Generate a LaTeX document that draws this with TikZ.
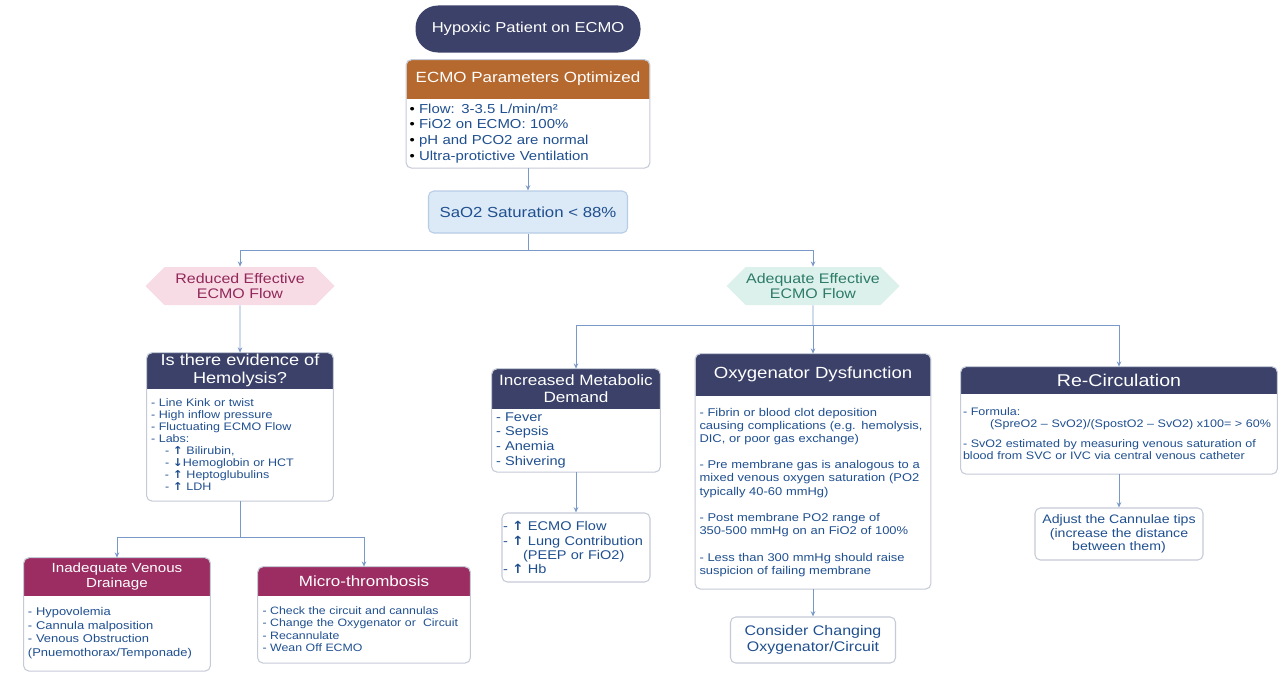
\documentclass[tikz,border=0pt]{standalone}
\usepackage{fontspec}
\setmainfont{Liberation Sans}[FakeStretch=1.15]
\newfontfamily\symfont{DejaVu Sans}[FakeStretch=1.1]
\usepackage{tikz}
\usetikzlibrary{arrows,arrows.meta,shapes,positioning}
\usepackage{xcolor}
\definecolor{dfnavy}{RGB}{59,65,104}
\definecolor{dforange}{RGB}{181,105,47}
\definecolor{dfplum}{RGB}{155,45,98}
\definecolor{dftext}{RGB}{31,79,143}
\definecolor{dfline}{RGB}{122,152,200}
\definecolor{dfframe}{RGB}{196,202,214}
\definecolor{dfsky}{RGB}{220,233,246}
\definecolor{dfskyline}{RGB}{183,205,230}
\definecolor{dfpink}{RGB}{248,220,229}
\definecolor{dfpinktext}{RGB}{146,40,90}
\definecolor{dfmint}{RGB}{221,241,236}
\definecolor{dfminttext}{RGB}{44,123,103}
\tikzstyle{line} = [draw=dfline, line width=0.5pt]
\tikzstyle{arrow} = [line,-{Stealth[length=3pt,width=2.6pt]}]
\tikzstyle{frame} = [draw=dfframe, line width=0.6pt, rounded corners=3pt]
\tikzset{
  head/.style={fill=white, inner sep=0pt, text=white, align=center,
    path picture={\fill[#1, rounded corners=3pt] (path picture bounding box.north west) rectangle ([yshift=-8pt]path picture bounding box.south east);}},
  body/.style={anchor=north, align=left, text=dftext, inner xsep=0.8mm, inner ysep=0pt},
  hexa/.style={signal, signal to=west and east, signal pointer angle=90, inner sep=0pt, align=center, fill=#1},
  plain/.style={draw=dfframe, line width=0.6pt, rounded corners=3pt, align=center, text=dftext, inner sep=0pt}
}
\newcommand{\up}{{\symfont\bfseries ↑}}
\newcommand{\down}{{\symfont\bfseries ↓}}

\begin{document}
\begin{tikzpicture}[x=0.2mm, y=-0.2mm]
\useasboundingbox (0,0) rectangle (1282,672);

% Start and parameters
\node[fill=dfnavy, rounded corners=4.5mm, minimum width=45mm, minimum height=9.4mm, text=white, font=\fontsize{8.2}{9.8}\selectfont] (start) at (528,29) {Hypoxic Patient on ECMO};
\node[head=dforange, minimum width=48.6mm, minimum height=7.6mm, font=\fontsize{8.4}{10}\selectfont] (param) at (528,79) {ECMO Parameters Optimized};
\node[body, text width=47.4mm, inner xsep=0.6mm, minimum height=13.8mm, font=\fontsize{7.4}{8.9}\selectfont] (paramb) at (param.south) {{\color{black}•} Flow: 3-3.5 L/min/m²\\{\color{black}•} FiO2 on ECMO: 100\%\\{\color{black}•} pH and PCO2 are normal\\{\color{black}•} Ultra-protictive Ventilation};
\draw[frame] (param.north west) rectangle (paramb.south east);

\node[plain, fill=dfsky, draw=dfskyline, minimum width=39.8mm, minimum height=8.4mm, font=\fontsize{8.3}{10}\selectfont] (sat) at (528,212) {SaO2 Saturation < 88\%};

% Flow branches
\node[hexa=dfpink, minimum width=37.8mm, minimum height=7.6mm, text=dfpinktext, font=\fontsize{7.9}{8.5}\selectfont] (reduced) at (240,286) {Reduced Effective\\ECMO Flow};
\node[hexa=dfmint, minimum width=34.6mm, minimum height=7.6mm, text=dfminttext, font=\fontsize{7.9}{8.5}\selectfont] (adequate) at (813,286) {Adequate Effective\\ECMO Flow};

% Reduced flow side
\node[head=dfnavy, minimum width=37.2mm, minimum height=7mm, font=\fontsize{9}{9.8}\selectfont] (hemo) at (240,370.5) {Is there evidence of\\Hemolysis?};
\node[body, text width=35.6mm, minimum height=22.4mm, font=\fontsize{6.2}{6.8}\selectfont] (hemob) at (hemo.south) {- Line Kink or twist\\- High inflow pressure\\- Fluctuating ECMO Flow\\- Labs:\\\hspace*{2.8mm}- \up{} Bilirubin,\\\hspace*{2.8mm}- \down{}Hemoglobin or HCT\\\hspace*{2.8mm}- \up{} Heptoglubulins\\\hspace*{2.8mm}- \up{} LDH};
\draw[frame] (hemo.north west) rectangle (hemob.south east);

\node[head=dfplum, minimum width=37.2mm, minimum height=7.4mm, font=\fontsize{7.5}{8.5}\selectfont] (drain) at (117,576.5) {Inadequate Venous\\Drainage};
\node[body, text width=35.6mm, minimum height=15mm, font=\fontsize{6.4}{7.7}\selectfont] (drainb) at (drain.south) {- Hypovolemia\\- Cannula malposition\\- Venous Obstruction\\(Pnuemothorax/Temponade)};
\draw[frame] (drain.north west) rectangle (drainb.south east);

\node[head=dfplum, minimum width=42.4mm, minimum height=5.6mm, font=\fontsize{8.4}{10}\selectfont] (micro) at (364,581) {Micro-thrombosis};
\node[body, text width=40.6mm, inner xsep=0.9mm, minimum height=13.4mm, font=\fontsize{6.1}{6.9}\selectfont] (microb) at (micro.south) {- Check the circuit and cannulas\\- Change the Oxygenator or\ \ Circuit\\- Recannulate\\- Wean Off ECMO};
\draw[frame] (micro.north west) rectangle (microb.south east);

% Adequate flow side
\node[head=dfnavy, minimum width=33.6mm, minimum height=7.8mm, font=\fontsize{8.5}{10}\selectfont] (meta) at (576,388.5) {Increased Metabolic\\Demand};
\node[body, text width=32mm, minimum height=12.6mm, font=\fontsize{7.2}{8.3}\selectfont] (metab) at (meta.south) {- Fever\\- Sepsis\\- Anemia\\- Shivering};
\draw[frame] (meta.north west) rectangle (metab.south east);
\node[plain, text width=29.2mm, inner xsep=0.2mm, minimum height=13.8mm, align=left, font=\fontsize{7.2}{8}\selectfont] (boost) at (576,547.5) {- \up{} ECMO Flow\\- \up{} Lung Contribution\\\hspace*{4mm}(PEEP or FiO2)\\- \up{} Hb};

\node[head=dfnavy, minimum width=47mm, minimum height=8.2mm, font=\fontsize{9.2}{11}\selectfont] (oxy) at (813,374.5) {Oxygenator Dysfunction};
\node[body, text width=45.4mm, minimum height=38.6mm, font=\fontsize{6.4}{7.5}\selectfont] (oxyb) at (oxy.south) {- Fibrin or blood clot deposition\\causing complications (e.g. hemolysis,\\DIC, or poor gas exchange)\\[7.5pt]- Pre membrane gas is analogous to a\\mixed venous oxygen saturation (PO2\\typically 40-60 mmHg)\\[7.5pt]- Post membrane PO2 range of\\350-500 mmHg on an FiO2 of 100\%\\[7.5pt]- Less than 300 mmHg should raise\\suspicion of failing membrane};
\draw[frame] (oxy.north west) rectangle (oxyb.south east);
\node[plain, minimum width=33mm, minimum height=9.2mm, font=\fontsize{7.9}{8.9}\selectfont] (change) at (813,640) {Consider Changing\\Oxygenator/Circuit};

\node[head=dfnavy, minimum width=63.2mm, minimum height=5.2mm, font=\fontsize{9.7}{11}\selectfont] (recirc) at (1119,380) {Re-Circulation};
\node[body, text width=62.4mm, inner xsep=0.4mm, minimum height=16mm, font=\fontsize{6.2}{6.8}\selectfont] (recircb) at (recirc.south) {- Formula:\\\hspace*{5.4mm}(SpreO2 – SvO2)/(SpostO2 – SvO2) x100= > 60\%\\[4.5pt]- SvO2 estimated by measuring venous saturation of\\blood from SVC or IVC via central venous catheter};
\draw[frame] (recirc.north west) rectangle (recircb.south east);
\node[plain, minimum width=33.6mm, minimum height=10.4mm, font=\fontsize{7}{7.6}\selectfont] (cannula) at (1119,534) {Adjust the Cannulae tips\\(increase the distance\\between them)};

% Connectors
\coordinate (split) at (528,250);
\coordinate (split2) at (240,537);
\coordinate (split3) at (813,325);
\draw[arrow] (paramb) -- (sat);
\draw[line] (sat) -- (split);
\draw[arrow] (split) -| (reduced);
\draw[arrow] (split) -| (adequate);
\draw[arrow] (reduced) -- (hemo);
\draw[line] (hemob) -- (split2);
\draw[arrow] (split2) -| (drain);
\draw[arrow] (split2) -| (micro);
\draw[line] (adequate) -- (split3);
\draw[arrow] (split3) -| (meta);
\draw[arrow] (split3) -- (oxy);
\draw[arrow] (split3) -| (recirc);
\draw[arrow] (metab) -- (boost);
\draw[arrow] (oxyb) -- (change);
\draw[arrow] (recircb) -- (cannula);
\end{tikzpicture}
\end{document}
